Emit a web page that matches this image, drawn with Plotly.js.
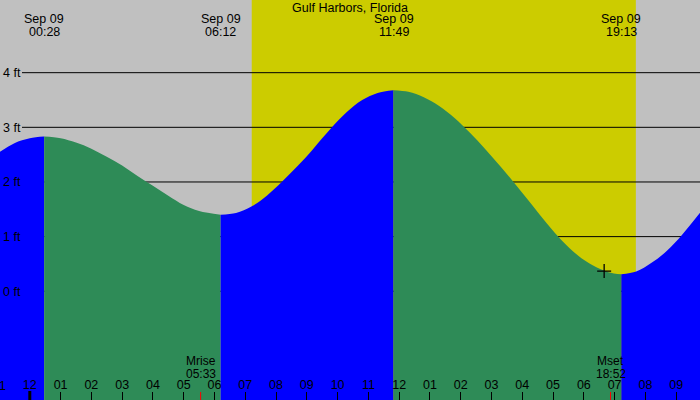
<!DOCTYPE html>
<html>
<head>
<meta charset="utf-8">
<script src="https://cdn.plot.ly/plotly-3.0.1.min.js"></script>
<style>html,body{margin:0;padding:0;background:#c0c0c0;}#chart{width:700px;height:400px;}</style>
</head>
<body>
<div id="chart"></div>
<script>
// ---- data (hours since Sep 09 00:00, tide height in ft) ----
const TITLE = 'Gulf Harbors, Florida';
const TIDE_T = [-0.97, -0.5, 0.0, 0.467, 1.0, 1.5, 2.0, 2.5, 3.0, 3.5, 4.0, 4.5, 5.0, 5.5, 6.2,
  6.7, 7.2, 7.7, 8.2, 8.7, 9.2, 9.8, 10.3, 10.8, 11.3, 11.817,
  12.3, 12.8, 13.3, 13.8, 14.3, 14.8, 15.3, 15.8, 16.3, 16.8, 17.3, 17.8, 18.3, 18.8, 19.217,
  19.7, 20.2, 20.7, 21.2, 21.78];
const TIDE_H = [2.55, 2.71, 2.80, 2.83, 2.80, 2.72, 2.61, 2.46, 2.30, 2.11, 1.93, 1.75, 1.58, 1.47, 1.40,
  1.43, 1.55, 1.75, 2.01, 2.29, 2.60, 2.99, 3.28, 3.50, 3.63, 3.68,
  3.65, 3.55, 3.39, 3.17, 2.90, 2.60, 2.28, 1.94, 1.59, 1.24, 0.92, 0.66, 0.47, 0.35, 0.31,
  0.36, 0.52, 0.74, 1.04, 1.44];
const EXTREME_T = [0.467, 6.2, 11.817, 19.217];
const EXTREME_DATE = ['Sep 09', 'Sep 09', 'Sep 09', 'Sep 09'];
const EXTREME_TIME = ['00:28', '06:12', '11:49', '19:13'];
const SUN_RISE_T = 7.21, SUN_SET_T = 19.69;
const MOON_T = [5.55, 18.867];
const MOON_NAME = ['Mrise', 'Mset'];
const MOON_TIME = ['05:33', '18:52'];
const HOUR_VALS = [-1,0,1,2,3,4,5,6,7,8,9,10,11,12,13,14,15,16,17,18,19,20,21];
const HOUR_TEXT = ['11','12','01','02','03','04','05','06','07','08','09','10','11','12','01','02','03','04','05','06','07','08','09'];
const FT_VALS = [0, 1, 2, 3, 4];
const FT_TEXT = ['0 ft', '1 ft', '2 ft', '3 ft', '4 ft'];
const NOW_T = [18.66], NOW_H = [0.37];

// ---- layout constants ----
const X_RANGE = [-0.968, 21.774];
const Y_RANGE = [-1.99, 5.33];
const FLOOR = Y_RANGE[0] - 1;
const FONT = {family: 'Liberation Sans, Arial, sans-serif', size: 12.5, color: '#000'};
const SMALL = {family: 'Liberation Sans, Arial, sans-serif', size: 12, color: '#000'};
const BLUE = '#0000ff', GREEN = '#2e8b57', GRAY = '#c0c0c0', YELLOW = '#cccc00';

const traces = [];
const bounds = [TIDE_T[0]].concat(EXTREME_T, [TIDE_T[TIDE_T.length - 1]]);
for (let i = 0; i < bounds.length - 1; i++) {
  const xs = [], ys = [];
  TIDE_T.forEach((t, k) => { if (t >= bounds[i] - 1e-9 && t <= bounds[i + 1] + 1e-9) { xs.push(t); ys.push(TIDE_H[k]); } });
  if (xs.length < 2) continue;
  const rising = ys[ys.length - 1] > ys[0];
  const col = rising ? BLUE : GREEN;
  traces.push({x: [xs[0], xs[xs.length - 1]], y: [FLOOR, FLOOR], mode: 'lines', line: {width: 0}, hoverinfo: 'skip', showlegend: false});
  traces.push({x: xs, y: ys, mode: 'lines', line: {width: 0, shape: 'spline', smoothing: 1, color: col}, fill: 'tonexty', fillcolor: col, hoverinfo: 'skip', showlegend: false});
}
traces.push({x: NOW_T, y: NOW_H, mode: 'markers', marker: {symbol: 'cross-thin', size: 10, line: {color: '#000', width: 1.3}}, hoverinfo: 'skip', showlegend: false});

const shapes = [];
shapes.push({type: 'rect', xref: 'x', yref: 'paper', x0: SUN_RISE_T, x1: SUN_SET_T, y0: 0, y1: 1, fillcolor: YELLOW, line: {width: 0}, layer: 'below'});
FT_VALS.forEach(v => shapes.push({type: 'line', xref: 'paper', yref: 'y', x0: 22 / 700, x1: 1, y0: v, y1: v, line: {color: '#000', width: 1}, layer: 'below'}));
MOON_T.forEach(t => shapes.push({type: 'line', xref: 'x', yref: 'paper', x0: t, x1: t, y0: 0, y1: 8 / 400, line: {color: '#ff0000', width: 1}, layer: 'above'}));
shapes.push({type: 'line', xref: 'x', yref: 'paper', x0: 0, x1: 0, y0: 0, y1: 9 / 400, line: {color: '#000', width: 3}, layer: 'above'});

const toPaperX = h => (h - X_RANGE[0]) / (X_RANGE[1] - X_RANGE[0]);
const annotations = [];
annotations.push({text: TITLE, xref: 'paper', yref: 'paper', x: 0.5, y: 1 - 7.5 / 400, showarrow: false, font: FONT, yanchor: 'middle'});
EXTREME_T.forEach((t, i) => {
  annotations.push({text: EXTREME_DATE[i], xref: 'x', yref: 'paper', x: t, y: 1 - 19.5 / 400, showarrow: false, font: FONT, yanchor: 'middle'});
  annotations.push({text: EXTREME_TIME[i], xref: 'x', yref: 'paper', x: t, y: 1 - 32 / 400, showarrow: false, font: FONT, yanchor: 'middle'});
});
MOON_T.forEach((t, i) => {
  annotations.push({text: MOON_NAME[i], xref: 'x', yref: 'paper', x: t, y: 1 - 361 / 400, showarrow: false, font: SMALL, yanchor: 'middle'});
  annotations.push({text: MOON_TIME[i], xref: 'x', yref: 'paper', x: t, y: 1 - 373.5 / 400, showarrow: false, font: SMALL, yanchor: 'middle'});
});
// hour labels whose tick falls just outside the visible range (partly cut off at the edge)
HOUR_VALS.forEach((h, i) => {
  if (h < X_RANGE[0] || h > X_RANGE[1]) {
    annotations.push({text: HOUR_TEXT[i], xref: 'paper', yref: 'paper', x: toPaperX(h), y: 1 - 385.5 / 400, showarrow: false, font: FONT, yanchor: 'middle', xanchor: 'center'});
  }
});

const layout = {
  width: 700, height: 400,
  margin: {l: 0, r: 0, t: 0, b: 0, pad: 0},
  paper_bgcolor: GRAY, plot_bgcolor: GRAY,
  showlegend: false,
  font: FONT,
  xaxis: {range: X_RANGE, showgrid: false, zeroline: false, showline: false,
    tickmode: 'array', tickvals: HOUR_VALS, ticktext: HOUR_TEXT,
    ticks: 'inside', ticklen: 8, tickwidth: 1, tickcolor: '#000',
    ticklabelposition: 'inside', tickfont: FONT, fixedrange: true},
  yaxis: {range: Y_RANGE, showgrid: false, zeroline: false, showline: false,
    tickmode: 'array', tickvals: FT_VALS, ticktext: FT_TEXT, ticks: '',
    ticklabelposition: 'inside', tickfont: FONT, fixedrange: true},
  shapes: shapes,
  annotations: annotations
};
Plotly.newPlot('chart', traces, layout, {staticPlot: true, displayModeBar: false});
</script>
</body>
</html>
